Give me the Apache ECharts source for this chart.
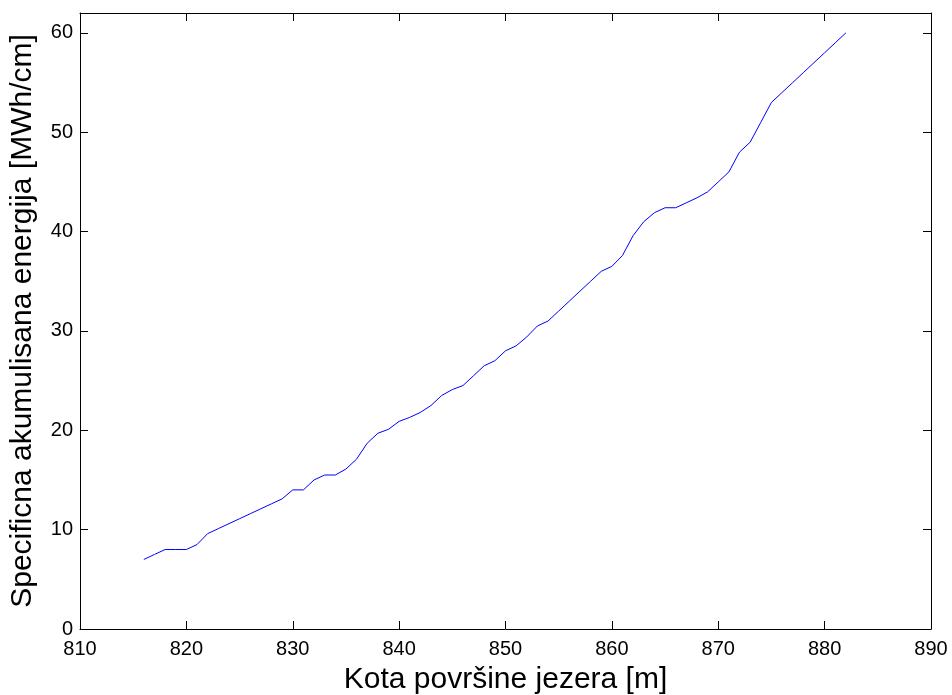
<!DOCTYPE html>
<html>
<head>
<meta charset="utf-8">
<script src="https://cdn.jsdelivr.net/npm/echarts@6/dist/echarts.min.js"></script>
<style>html,body{margin:0;padding:0;background:#fff;}#c{width:952px;height:695px;}</style>
</head>
<body>
<div id="c"></div>
<script>
var kota = [816,817,818,819,820,821,822,823,824,825,826,827,828,829,830,831,832,833,834,835,836,837,838,839,840,841,842,843,844,845,846,847,848,849,850,851,852,853,854,855,856,857,858,859,860,861,862,863,864,865,866,867,868,869,870,871,872,873,874,875,876,877,878,879,880,881,882];
var energija = [7,7.5,8,8,8,8.5,9.6,10.1,10.6,11.1,11.6,12.1,12.6,13.1,14,14,15,15.5,15.5,16.1,17.1,18.7,19.7,20.1,20.9,21.3,21.8,22.5,23.5,24.1,24.5,25.5,26.5,27,28,28.5,29.4,30.5,31,32,33,34,35,36,36.5,37.6,39.6,41,41.9,42.4,42.4,42.9,43.4,44,45,46,48,49,51,53,54,55,56,57,58,59,60];
var xTitle = 'Kota površine jezera [m]';
var yTitle = 'Specificna akumulisana energija [MWh/cm]';

var FONT = '"Liberation Sans", Arial, sans-serif';
var chart = echarts.init(document.getElementById('c'), null, {renderer: 'canvas'});
var pts = kota.map(function (k, i) { return [k, energija[i]]; });
function frameAxis(pos, isX, show) {
  return {
    type: 'value', position: pos, min: isX ? 810 : 0, max: isX ? 890 : 62, interval: 10,
    axisLine: {show: true, onZero: false, lineStyle: {color: '#000', width: 1}},
    axisTick: {show: true, inside: true, length: 8, lineStyle: {color: '#000', width: 1}},
    splitLine: {show: false},
    axisLabel: {show: show, color: '#000', fontFamily: FONT, fontSize: 20,
      margin: isX ? 10 : 7,
      formatter: function (v) { return (v % 10 === 0) ? String(v) : ''; }}
  };
}
var xa = frameAxis('bottom', true, true);
xa.name = xTitle; xa.nameLocation = 'middle'; xa.nameGap = 36;
xa.nameTextStyle = {color: '#000', fontFamily: FONT, fontSize: 30};
var ya = frameAxis('left', false, true);
ya.name = yTitle; ya.nameLocation = 'middle'; ya.nameGap = 42;
ya.nameTextStyle = {color: '#000', fontFamily: FONT, fontSize: 30};
var xt = frameAxis('top', true, false);
var yr = frameAxis('right', false, false);

chart.setOption({
  animation: false,
  backgroundColor: '#fff',
  grid: {left: 80, right: 21, top: 13, bottom: 66, containLabel: false, outerBoundsMode: 'none'},
  xAxis: [xa, xt],
  yAxis: [ya, yr],
  series: [{
    type: 'line', data: pts, xAxisIndex: 0, yAxisIndex: 0,
    showSymbol: false, symbol: 'none',
    lineStyle: {color: '#0000ff', width: 1}
  }]
});
</script>
</body>
</html>
